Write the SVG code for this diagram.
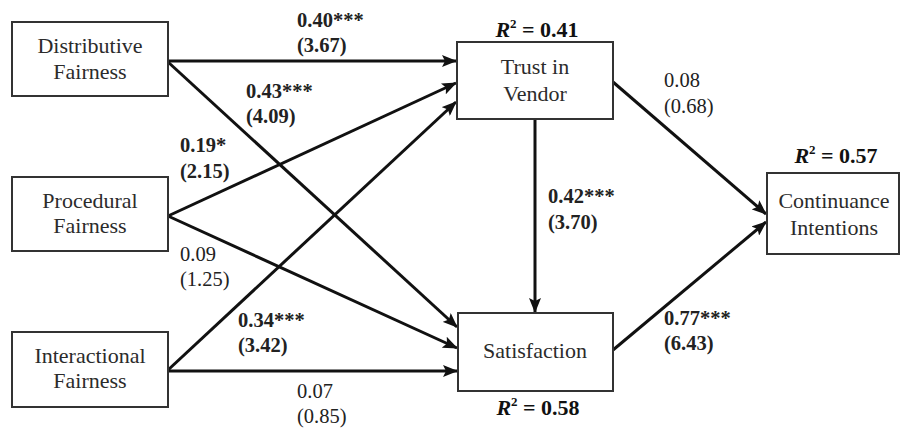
<svg xmlns="http://www.w3.org/2000/svg" width="902" height="429" viewBox="0 0 902 429">
<style>
.box{fill:#fff;stroke:#333;stroke-width:2}
.nt{font-size:22px;fill:#2b2b2b;text-anchor:middle}
.lb{font-size:20.5px;fill:#222}
.b{font-weight:bold}
.r2{font-size:22px;font-weight:bold;fill:#111;text-anchor:middle}
.e{stroke:#111;stroke-width:3;fill:none;marker-end:url(#ah)}
</style>
<defs>
<marker id="ah" markerUnits="userSpaceOnUse" markerWidth="15" markerHeight="12" refX="14" refY="6" orient="auto">
<path d="M0,0 L15,6 L0,12 L3,6 z" fill="#111"/>
</marker>
</defs>
<rect width="902" height="429" fill="#fff"/>
<g id="connectors">
<line class="e" x1="168" y1="61" x2="456" y2="61"/>
<line class="e" x1="168" y1="62" x2="457" y2="327"/>
<line class="e" x1="168" y1="216" x2="456" y2="83"/>
<line class="e" x1="168" y1="216" x2="457" y2="348"/>
<line class="e" x1="168" y1="370" x2="456" y2="102"/>
<line class="e" x1="168" y1="371" x2="457" y2="371"/>
<line class="e" x1="535" y1="119" x2="535" y2="312"/>
<line class="e" x1="613" y1="82" x2="766" y2="214"/>
<line class="e" x1="613" y1="350" x2="766" y2="222"/>
</g>
<g font-family="Liberation Serif, Times New Roman, Times, DejaVu Serif, Noto Serif, FreeSerif, serif">
<g id="distributive">
<rect class="box" x="12" y="22" width="156" height="74"/>
<text class="nt" x="90" y="53">Distributive</text>
<text class="nt" x="90" y="79">Fairness</text>
</g>
<g id="procedural">
<rect class="box" x="12" y="177" width="156" height="74"/>
<text class="nt" x="90" y="208">Procedural</text>
<text class="nt" x="90" y="233">Fairness</text>
</g>
<g id="interactional">
<rect class="box" x="12" y="332" width="156" height="75"/>
<text class="nt" x="90" y="363">Interactional</text>
<text class="nt" x="90" y="388">Fairness</text>
</g>
<g id="trust">
<rect class="box" x="457" y="42" width="156" height="77"/>
<text class="nt" x="535" y="74">Trust in</text>
<text class="nt" x="535" y="101">Vendor</text>
<text class="r2" x="537" y="37"><tspan font-style="italic">R</tspan><tspan font-size="13" dy="-9">2</tspan><tspan dy="9"> = 0.41</tspan></text>
</g>
<g id="satisfaction">
<rect class="box" x="458" y="313" width="155" height="78"/>
<text class="nt" x="535" y="358">Satisfaction</text>
<text class="r2" x="538" y="415"><tspan font-style="italic">R</tspan><tspan font-size="13" dy="-9">2</tspan><tspan dy="9"> = 0.58</tspan></text>
</g>
<g id="continuance">
<rect class="box" x="767" y="173" width="132" height="81"/>
<text class="nt" x="834" y="208">Continuance</text>
<text class="nt" x="834" y="235">Intentions</text>
<text class="r2" x="836" y="163"><tspan font-style="italic">R</tspan><tspan font-size="13" dy="-9">2</tspan><tspan dy="9"> = 0.57</tspan></text>
</g>
<g id="labels">
<text class="lb b" x="297" y="27">0.40***</text>
<text class="lb b" x="297" y="52">(3.67)</text>
<text class="lb b" x="246" y="98">0.43***</text>
<text class="lb b" x="246" y="123">(4.09)</text>
<text class="lb b" x="180" y="152">0.19*</text>
<text class="lb b" x="180" y="178">(2.15)</text>
<text class="lb" x="180" y="261">0.09</text>
<text class="lb" x="180" y="286">(1.25)</text>
<text class="lb b" x="238" y="327">0.34***</text>
<text class="lb b" x="238" y="352">(3.42)</text>
<text class="lb" x="297" y="398">0.07</text>
<text class="lb" x="297" y="423">(0.85)</text>
<text class="lb b" x="548" y="203">0.42***</text>
<text class="lb b" x="548" y="229">(3.70)</text>
<text class="lb" x="664" y="87">0.08</text>
<text class="lb" x="664" y="113">(0.68)</text>
<text class="lb b" x="664" y="325">0.77***</text>
<text class="lb b" x="664" y="350">(6.43)</text>
</g>
</g>
</svg>
